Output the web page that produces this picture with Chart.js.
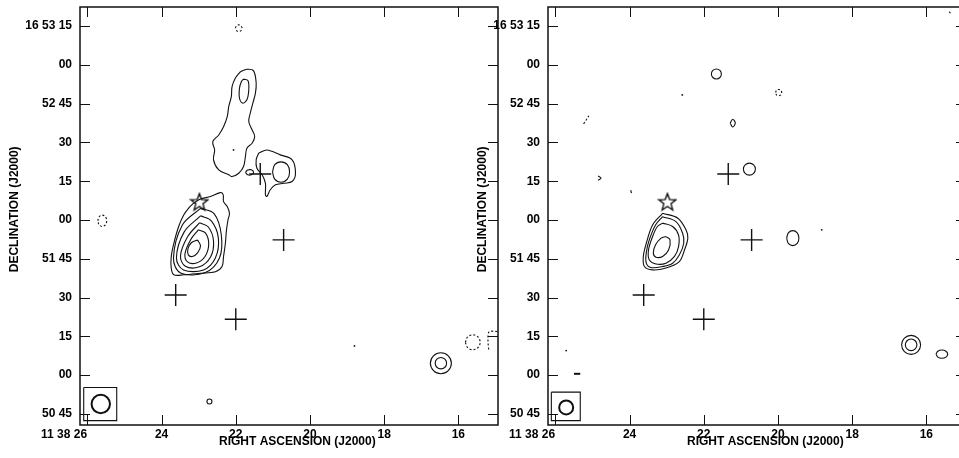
<!DOCTYPE html>
<html><head><meta charset="utf-8">
<script src="https://cdn.jsdelivr.net/npm/chart.js@4.4.0/dist/chart.umd.min.js"></script>
<style>
html,body{margin:0;padding:0;background:#fff;width:959px;height:458px;overflow:hidden;position:relative}
canvas{position:absolute;top:0;width:505px;height:458px}
#c1{left:0}
#c2{left:468px}
</style></head><body>
<canvas id="c1" width="505" height="458"></canvas>
<canvas id="c2" width="505" height="458"></canvas>
<script>
// ---------- axes ----------
const X_MIN = 14.93, X_MAX = 26.2;          // RA seconds of 11h38m
const Y_MIN = 40.7, Y_MAX = 202.4;          // Dec arcsec past +16d50'00"
const X_TICKS = [16, 18, 20, 22, 24, 26];
const X_LABELS = ["16", "18", "20", "22", "24", "11 38 26\u00a0\u00a0\u00a0\u00a0\u00a0\u00a0\u00a0\u00a0\u00a0\u00a0\u00a0\u00a0\u00a0\u00a0"];
const Y_TICKS = [45, 60, 75, 90, 105, 120, 135, 150, 165, 180, 195];
const Y_LABELS = ["50 45", "00", "15", "30", "51 45", "00", "15", "30", "52 45", "00", "16 53 15"];
const X_TITLE = "\u00a0\u00a0\u00a0\u00a0\u00a0RIGHT ASCENSION (J2000)";
const Y_TITLE = "\u00a0\u00a0\u00a0\u00a0DECLINATION (J2000)";

// ---------- markers (both panels) ----------
const crosses = [[23.62, 91.0], [22.00, 81.6], [20.71, 112.3], [21.34, 137.8]];
const starPos = [[22.98, 127.1]];

// ---------- left panel contours ----------
const L_main1 = [[23.14,126.5],[22.95,128.1],[22.68,129.1],[22.42,130.6],[22.34,129.8],[22.33,127.1],[22.23,125.2],[22.17,122.6],[22.21,120.0],[22.25,116.2],[22.28,111.0],[22.33,105.9],[22.37,102.0],[22.55,100.0],[22.95,99.4],[23.40,98.8],[23.67,98.8],[23.74,101.4],[23.74,105.9],[23.67,111.0],[23.54,117.5],[23.40,122.0],[23.27,124.6],[23.14,126.5]];
const L_main2 = [[22.95,124.5],[22.58,122.4],[22.39,114.2],[22.44,105.3],[22.82,99.7],[23.49,99.5],[23.68,105.3],[23.44,118.1],[22.95,124.5]];
const L_main3 = [[22.95,121.6],[22.66,119.7],[22.47,113.1],[22.55,105.3],[22.87,100.7],[23.41,100.7],[23.60,105.3],[23.39,115.4],[22.95,121.6]];
const L_main4 = [[22.98,118.9],[22.74,117.3],[22.60,111.9],[22.68,105.7],[22.98,101.9],[23.36,102.1],[23.49,106.1],[23.30,113.5],[22.98,118.9]];
const L_main5 = [[23.01,116.2],[22.82,115.0],[22.73,110.8],[22.82,106.1],[23.06,103.4],[23.30,103.8],[23.37,106.9],[23.22,112.3],[23.01,116.2]];
const L_main6 = [[23.03,112.3],[22.95,110.0],[23.03,107.3],[23.17,105.9],[23.28,106.5],[23.29,108.8],[23.20,111.2],[23.03,112.3]];
const L_north1 = [[21.88,177.3],[21.70,178.3],[21.52,177.7],[21.45,172.9],[21.47,169.1],[21.54,165.2],[21.61,161.3],[21.65,158.1],[21.56,154.9],[21.49,152.3],[21.56,149.7],[21.70,147.8],[21.74,144.5],[21.79,140.7],[21.92,138.1],[22.10,136.8],[22.19,137.5],[22.46,139.4],[22.60,143.3],[22.57,147.1],[22.62,150.3],[22.46,152.9],[22.33,156.1],[22.23,160.0],[22.19,163.9],[22.12,167.7],[22.10,171.6],[22.01,174.9],[21.88,177.3]];
const L_north2 = [[21.79,174.5],[21.67,173.9],[21.65,170.3],[21.70,166.5],[21.81,165.2],[21.90,167.1],[21.90,171.0],[21.85,173.5],[21.79,174.5]];
const L_east1 = [[21.38,145.9],[21.16,147.1],[20.80,145.2],[20.48,143.3],[20.39,138.1],[20.48,134.9],[20.71,134.2],[20.93,133.6],[21.07,131.7],[21.16,129.1],[21.20,129.7],[21.20,134.2],[21.29,137.5],[21.43,140.0],[21.45,143.3],[21.38,145.9]];
const L_east2 = [[21.01,138.6],[20.95,141.4],[20.78,142.5],[20.61,141.4],[20.55,138.6],[20.61,135.8],[20.78,134.6],[20.95,135.8],[21.01,138.6]];
const L_knot = [[21.74,138.4],[21.68,139.3],[21.58,139.4],[21.52,138.4],[21.58,137.5],[21.68,137.5],[21.74,138.4]];
const L_neg1 = [[25.72,119.7],[25.685,121.26],[25.60,121.9],[25.515,121.26],[25.48,119.7],[25.515,118.14],[25.60,117.5],[25.685,118.14],[25.72,119.7]];
const L_neg2 = [[22.01,194.2],[21.98,195.1],[21.92,195.5],[21.86,195.1],[21.83,194.2],[21.86,193.3],[21.92,192.9],[21.98,193.3],[22.01,194.2]];
const L_neg3 = [[15.81,72.7],[15.75,74.75],[15.61,75.6],[15.47,74.75],[15.41,72.7],[15.47,70.65],[15.61,69.8],[15.75,70.65],[15.81,72.7]];
const L_neg4 = [[14.95,76.9],[15.17,76.7],[15.20,73.6],[15.18,69.7]];
const L_rings = [[16.47,64.6],[16.47,64.6],[22.71,49.8]];
const L_ringR = [10.5, 5.7, 2.5];
const L_dots = [[18.80,71.3],[22.06,147.1]];
const L_beamBox = [[26.10,55.2],[25.21,55.2],[25.21,42.4],[26.10,42.4],[26.10,55.2]];
const L_beam = [[25.64,48.8]];
const L_beamR = [9.2];

// ---------- right panel contours ----------
const R_main1 = [[23.11,122.6],[22.70,120.7],[22.48,116.2],[22.43,113.0],[22.52,108.4],[22.66,103.9],[23.02,101.4],[23.38,100.7],[23.60,102.0],[23.63,105.9],[23.55,111.0],[23.38,118.1],[23.11,122.6]];
const R_main2 = [[23.11,121.3],[22.75,119.4],[22.57,114.9],[22.54,111.0],[22.66,106.5],[22.84,103.3],[23.11,102.0],[23.42,101.6],[23.55,103.3],[23.55,107.4],[23.47,112.3],[23.30,118.1],[23.11,121.3]];
const R_main3 = [[23.11,118.8],[22.84,117.5],[22.68,114.2],[22.68,109.7],[22.79,105.9],[23.02,103.3],[23.29,103.0],[23.47,104.6],[23.49,108.4],[23.38,113.6],[23.25,117.5],[23.11,118.8]];
const R_main4 = [[23.02,113.6],[22.91,112.3],[22.95,108.4],[23.11,105.9],[23.29,105.6],[23.36,107.2],[23.30,110.4],[23.15,113.0],[23.02,113.6]];
const R_src1 = [[19.765,113.0],[19.72,115.05],[19.60,115.9],[19.48,115.05],[19.435,113.0],[19.48,110.95],[19.60,110.1],[19.72,110.95],[19.765,113.0]];
const R_src2 = [[15.737,68.1],[15.69,69.23],[15.58,69.7],[15.47,69.23],[15.423,68.1],[15.47,66.97],[15.58,66.5],[15.69,66.97],[15.737,68.1]];
const R_src3 = [[21.29,157.5],[21.22,159.0],[21.15,157.5],[21.22,156.0],[21.29,157.5]];
const R_bit1 = [[24.85,137.0],[24.77,136.2],[24.85,135.4]];
const R_bit2 = [[23.97,131.6],[23.95,130.4]];
const R_dash = [[25.50,60.5],[25.33,60.5]];
const R_neg1 = [[20.06,169.3],[20.04,170.2],[19.98,170.5],[19.92,170.2],[19.90,169.3],[19.92,168.4],[19.98,168.1],[20.04,168.4],[20.06,169.3]];
const R_neg2 = [[25.24,157.2],[25.17,158.7],[25.10,160.3]];
const R_neg3 = [[15.38,200.6],[15.32,199.4]];
const R_rings = [[21.66,176.5],[20.77,139.7],[16.41,71.7],[16.41,71.7]];
const R_ringR = [5, 6, 9.5, 5.8];
const R_dots = [[22.58,168.4],[18.82,116.2],[25.71,69.5]];
const R_beamBox = [[26.11,53.4],[25.33,53.4],[25.33,42.4],[26.11,42.4],[26.11,53.4]];
const R_beam = [[25.71,47.5]];
const R_beamR = [7];

// ---------- helpers ----------
const INK = '#111';
const FONT = {family: "'Liberation Sans', Arial, sans-serif", size: 12, weight: 'bold'};
const xy = a => a.map(([x, y]) => ({x, y}));
function contour(pts, dashed) {
  return {type: 'scatter', data: xy(pts), showLine: true, borderColor: INK, borderWidth: 1.1,
    borderDash: dashed ? [2, 2] : [], pointRadius: 0, tension: 0.35, fill: false};
}
function rings(pts, radii, lw) {
  return {type: 'scatter', data: xy(pts), showLine: false, pointStyle: 'circle',
    pointRadius: radii, pointBorderColor: INK, pointBackgroundColor: 'rgba(0,0,0,0)', pointBorderWidth: lw || 1.1};
}
function dots(pts) {
  return {type: 'scatter', data: xy(pts), showLine: false, pointStyle: 'circle',
    pointRadius: 0.9, pointBorderWidth: 0, pointBackgroundColor: INK};
}
function makeStar(size) {
  const c = document.createElement('canvas'); c.width = c.height = size;
  const g = c.getContext('2d'); const R = size / 2 - 1, r = R * 0.42;
  const cx = size / 2, cy = size / 2 + 0.9;
  g.beginPath();
  for (let i = 0; i < 10; i++) {
    const a = -Math.PI / 2 + i * Math.PI / 5, rr = i % 2 ? r : R;
    g.lineTo(cx + rr * Math.cos(a), cy + rr * Math.sin(a));
  }
  g.closePath(); g.lineWidth = 1.3; g.strokeStyle = '#000'; g.stroke();
  return c;
}
const STAR = makeStar(20);
function markers() {
  return [
    {type: 'scatter', data: xy(crosses), pointStyle: 'cross', pointRadius: 11, pointBorderColor: INK, pointBorderWidth: 1.4, showLine: false},
    {type: 'scatter', data: xy(starPos), pointStyle: STAR, pointRadius: 10, showLine: false}
  ];
}
const TICK_LEN = 10;
const frame = {
  id: 'frame',
  afterDraw(chart) {
    const {ctx, chartArea: {left, right, top, bottom}, scales: {x, y}} = chart;
    ctx.save();
    ctx.strokeStyle = INK; ctx.lineWidth = 1;
    ctx.beginPath();
    X_TICKS.forEach(v => {
      const p = Math.round(x.getPixelForValue(v)) + 0.5;
      ctx.moveTo(p, bottom); ctx.lineTo(p, bottom - TICK_LEN);
      ctx.moveTo(p, top); ctx.lineTo(p, top + TICK_LEN);
    });
    Y_TICKS.forEach(v => {
      const p = Math.round(y.getPixelForValue(v)) + 0.5;
      ctx.moveTo(left, p); ctx.lineTo(left + TICK_LEN, p);
      ctx.moveTo(right, p); ctx.lineTo(right - TICK_LEN, p);
    });
    ctx.stroke();
    ctx.lineWidth = 1.5;
    ctx.strokeRect(left, top, right - left, bottom - top);
    ctx.restore();
  }
};
const xLab = new Map(X_TICKS.map((v, i) => [v, X_LABELS[i]]));
const yLab = new Map(Y_TICKS.map((v, i) => [v, Y_LABELS[i]]));
function makeChart(id, datasets) {
  return new Chart(document.getElementById(id), {
    type: 'scatter',
    data: {datasets},
    plugins: [frame],
    options: {
      responsive: false, animation: false, devicePixelRatio: 1,
      layout: {autoPadding: false, padding: {left: 0, top: 7, right: 7, bottom: 0}},
      plugins: {legend: {display: false}, tooltip: {enabled: false}},
      scales: {
        x: {type: 'linear', reverse: true, min: X_MIN, max: X_MAX,
          afterBuildTicks: s => { s.ticks = X_TICKS.map(v => ({value: v})); },
          afterFit: s => { s.height = 33; s.paddingLeft = 0; s.paddingRight = 0; },
          grid: {display: false, drawTicks: false}, border: {display: false},
          ticks: {autoSkip: false, maxRotation: 0, padding: 2, color: '#000', font: FONT, callback: v => xLab.get(v) ?? ''},
          title: {display: true, text: X_TITLE, color: '#000', font: FONT, padding: {top: 0, bottom: 9.5}}},
        y: {type: 'linear', min: Y_MIN, max: Y_MAX,
          afterBuildTicks: s => { s.ticks = Y_TICKS.map(v => ({value: v})); },
          afterFit: s => { s.width = 80; s.paddingTop = 0; s.paddingBottom = 0; },
          grid: {display: false, drawTicks: false}, border: {display: false},
          ticks: {autoSkip: false, padding: 8, color: '#000', font: FONT, callback: v => yLab.get(v) ?? ''},
          title: {display: true, text: Y_TITLE, color: '#000', font: FONT, padding: {top: 7, bottom: 0}}}
      }
    }
  });
}

makeChart('c1', [
  contour(L_main1), contour(L_main2), contour(L_main3), contour(L_main4), contour(L_main5), contour(L_main6),
  contour(L_north1), contour(L_north2), contour(L_east1), contour(L_east2), contour(L_knot),
  contour(L_neg1, true), contour(L_neg2, true), contour(L_neg3, true), contour(L_neg4, true),
  rings(L_rings, L_ringR), dots(L_dots),
  Object.assign(contour(L_beamBox), {tension: 0}), rings(L_beam, L_beamR, 2),
  ...markers()
]);
makeChart('c2', [
  contour(R_main1), contour(R_main2), contour(R_main3), contour(R_main4),
  contour(R_src1), contour(R_src2), contour(R_src3), contour(R_bit1), contour(R_bit2),
  Object.assign(contour(R_dash), {borderWidth: 2}),
  contour(R_neg1, true), contour(R_neg2, true), contour(R_neg3, true),
  rings(R_rings, R_ringR), dots(R_dots),
  Object.assign(contour(R_beamBox), {tension: 0}), rings(R_beam, R_beamR, 2),
  ...markers()
]);
</script>
</body></html>
